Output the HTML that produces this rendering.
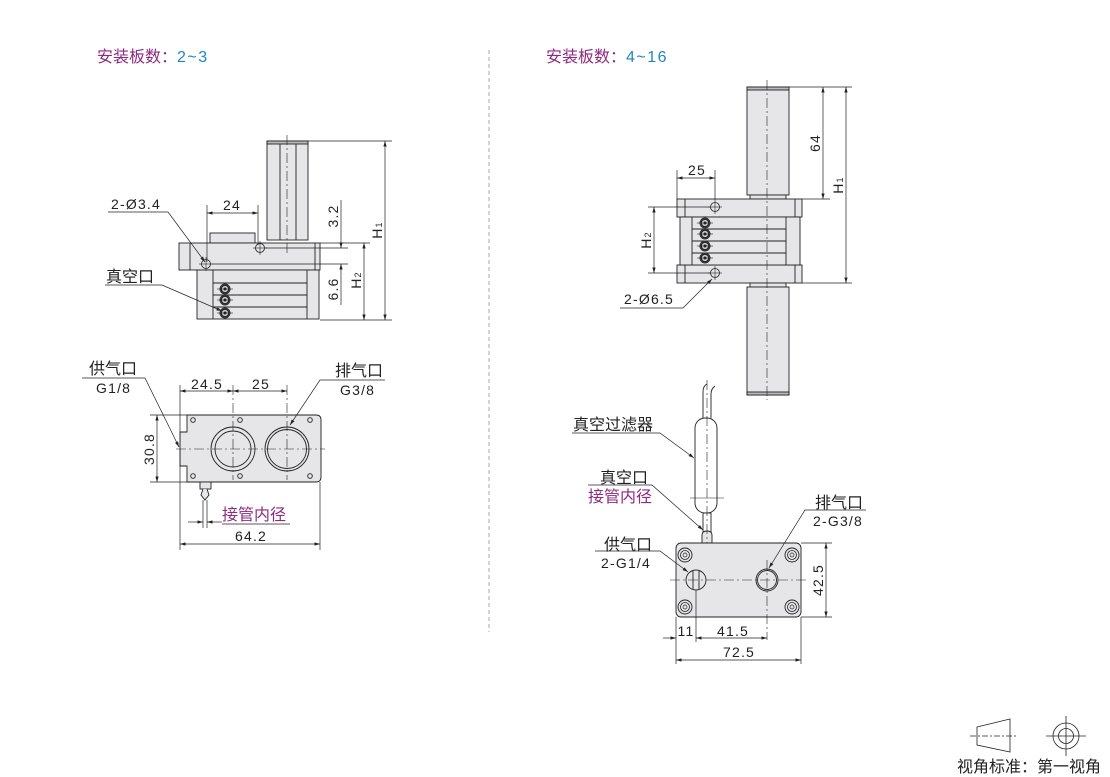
<!DOCTYPE html>
<html><head><meta charset="utf-8"><style>
html,body{margin:0;padding:0;background:#fff;}
svg{display:block;}
text{font-family:"Liberation Sans","Noto Sans CJK SC",sans-serif;fill:#222;font-size:14px;letter-spacing:1.2px;}
.c{font-size:16px;letter-spacing:0;}
.m{text-anchor:middle;}
.p{fill:#8e2a80;}
.b{fill:#1f86c4;}
</style></head><body>
<svg width="1110" height="777" viewBox="0 0 1110 777" xmlns="http://www.w3.org/2000/svg">
<defs>
<marker id="a" viewBox="0 0 10 6" refX="10" refY="3" markerWidth="8" markerHeight="5" orient="auto-start-reverse"><path d="M0,0L10,3L0,6z" fill="#222"/></marker>
<g id="fit"><circle r="5.5" fill="#333"/><circle r="3.5" fill="#ccc" stroke="#222" stroke-width="0.8"/><circle r="1.5" fill="#222"/><line x1="-8" y1="0" x2="8" y2="0" stroke="#222" stroke-width="0.6"/></g>
<g id="hole"><circle r="4.5" fill="none" stroke="#222" stroke-width="0.8"/><line x1="-7" y1="0" x2="7" y2="0" stroke="#222" stroke-width="0.6"/><line x1="0" y1="-7" x2="0" y2="7" stroke="#222" stroke-width="0.6"/></g>
<g id="scr"><circle r="7" fill="#e6e6e8" stroke="#222" stroke-width="0.9"/><circle r="4.5" fill="none" stroke="#222" stroke-width="0.8"/><circle r="2" fill="none" stroke="#222" stroke-width="0.7"/></g>
</defs>

<text x="97" y="62" class="c"><tspan class="p">安装板数：</tspan><tspan class="b" letter-spacing="1.5">2~3</tspan></text>
<text x="546" y="62" class="c"><tspan class="p">安装板数：</tspan><tspan class="b" letter-spacing="1.5">4~16</tspan></text>
<line x1="489" y1="50" x2="489" y2="632" stroke="#aaa" stroke-width="1" stroke-dasharray="4,3"/>

<g stroke="#222" stroke-width="0.9" fill="#e6e6e8">
<rect x="267" y="141" width="41" height="99"/>
<line x1="280" y1="143" x2="280" y2="240"/><line x1="296" y1="143" x2="296" y2="240"/>
<rect x="267" y="141" width="41" height="3" fill="#bbb"/>
<rect x="210" y="233" width="45" height="10"/>
<rect x="179" y="243" width="141" height="27"/>
<line x1="190" y1="243" x2="190" y2="270"/><line x1="315" y1="243" x2="315" y2="270"/>
<rect x="197" y="270" width="122" height="49"/>
<line x1="213" y1="270" x2="213" y2="319"/><line x1="307" y1="270" x2="307" y2="319"/>
<line x1="213" y1="283" x2="307" y2="283"/><line x1="213" y1="295" x2="307" y2="295"/><line x1="213" y1="307" x2="307" y2="307"/>
</g>
<line x1="287" y1="135" x2="287" y2="255" stroke="#222" stroke-width="0.6" stroke-dasharray="10,3,2,3"/>
<use href="#fit" x="225" y="289"/><use href="#fit" x="225" y="300"/><use href="#fit" x="225" y="313"/>
<use href="#hole" x="260" y="248"/><use href="#hole" x="206" y="264"/>
<g stroke="#222" stroke-width="0.7" fill="none">
<line x1="308" y1="141" x2="392" y2="141"/><line x1="320" y1="320" x2="392" y2="320"/>
<line x1="385" y1="141" x2="385" y2="320" marker-start="url(#a)" marker-end="url(#a)"/>
<line x1="320" y1="243" x2="370" y2="243"/>
<line x1="364" y1="243" x2="364" y2="320" marker-start="url(#a)" marker-end="url(#a)"/>
<line x1="265" y1="248" x2="348" y2="248"/><line x1="212" y1="264" x2="348" y2="264"/>
<line x1="341" y1="200" x2="341" y2="248" marker-end="url(#a)"/>
<line x1="341" y1="264" x2="341" y2="305" marker-start="url(#a)"/>
<line x1="207" y1="205" x2="207" y2="262"/><line x1="258" y1="205" x2="258" y2="245"/>
<line x1="207" y1="213" x2="258" y2="213" marker-start="url(#a)" marker-end="url(#a)"/>
<polyline points="108,212 168,212 205,262" marker-end="url(#a)"/>
<polyline points="105,285 162,285 222,311" marker-end="url(#a)"/>
</g>
<text x="111" y="209">2-Ø3.4</text>
<text x="232" y="210" class="m">24</text>
<text x="106" y="282" class="c">真空口</text>
<text class="m" transform="translate(338,216) rotate(-90)">3.2</text>
<text class="m" transform="translate(338,289) rotate(-90)">6.6</text>
<text class="m" transform="translate(361,280) rotate(-90)">H<tspan font-size="9">2</tspan></text>
<text class="m" transform="translate(382,230) rotate(-90)">H<tspan font-size="9">1</tspan></text>

<path d="M187,415 H316 Q321,415 321,420 V477 Q321,482 316,482 H187 V466 H180 V432 H187 Z" fill="#e6e6e8" stroke="#222" stroke-width="0.9"/>
<g stroke="#222" stroke-width="0.9" fill="none">
<circle cx="233" cy="449" r="22"/><circle cx="233" cy="449" r="18"/>
<circle cx="287" cy="449" r="22"/><circle cx="287" cy="449" r="19.5"/>
<circle cx="193" cy="420" r="2.3"/><circle cx="240" cy="420" r="2.3"/><circle cx="310" cy="420" r="2.3"/>
<circle cx="193" cy="476" r="2.3"/><circle cx="240" cy="476" r="2.3"/><circle cx="310" cy="476" r="2.3"/>
<rect x="200" y="482" width="11" height="7" fill="#e6e6e8"/>
<path d="M203,489 L201,495 L205,500 L209,495 L207,489" fill="#e6e6e8"/>
</g>
<g stroke="#222" stroke-width="0.7" fill="none">
<line x1="176" y1="449" x2="325" y2="449" stroke-dasharray="10,3,2,3" stroke-width="0.6"/>
<line x1="233" y1="385" x2="233" y2="480" stroke-dasharray="10,3,2,3" stroke-width="0.6"/>
<line x1="287" y1="385" x2="287" y2="480" stroke-dasharray="10,3,2,3" stroke-width="0.6"/>
<line x1="180" y1="385" x2="180" y2="550"/><line x1="320" y1="482" x2="320" y2="550"/>
<line x1="180" y1="391" x2="233" y2="391" marker-start="url(#a)" marker-end="url(#a)"/>
<line x1="233" y1="391" x2="287" y2="391" marker-start="url(#a)" marker-end="url(#a)"/>
<line x1="150" y1="415" x2="187" y2="415"/><line x1="150" y1="482" x2="187" y2="482"/>
<line x1="157" y1="415" x2="157" y2="482" marker-start="url(#a)" marker-end="url(#a)"/>
<line x1="180" y1="544" x2="320" y2="544" marker-start="url(#a)" marker-end="url(#a)"/>
<line x1="203" y1="500" x2="203" y2="528"/><line x1="207" y1="500" x2="207" y2="528"/>
<line x1="188" y1="522" x2="203" y2="522" marker-end="url(#a)"/>
<line x1="222" y1="522" x2="207" y2="522" marker-end="url(#a)"/>
<line x1="222" y1="524" x2="290" y2="524"/>
<polyline points="82,378 145,378 179,447" marker-end="url(#a)"/>
<polyline points="385,380 320,380 290,425" marker-end="url(#a)"/>
</g>
<text x="89" y="374" class="c">供气口</text>
<text x="96" y="393">G1/8</text>
<text x="335" y="376" class="c">排气口</text>
<text x="340" y="395">G3/8</text>
<text x="207" y="389" class="m">24.5</text>
<text x="261" y="389" class="m">25</text>
<text class="m" transform="translate(154,449) rotate(-90)">30.8</text>
<text x="251" y="541" class="m">64.2</text>
<text x="222" y="520" class="c p">接管内径</text>

<g stroke="#222" stroke-width="0.9" fill="#e6e6e8">
<rect x="747" y="87" width="42" height="108"/><rect x="747" y="87" width="42" height="3" fill="#bbb"/>
<rect x="750" y="195" width="36" height="4"/>
<rect x="677" y="199" width="125" height="18"/>
<rect x="677" y="265" width="125" height="18"/>
<line x1="685" y1="199" x2="685" y2="217"/><line x1="795" y1="199" x2="795" y2="217"/>
<line x1="685" y1="265" x2="685" y2="283"/><line x1="795" y1="265" x2="795" y2="283"/>
<rect x="680" y="217" width="120" height="48"/>
<line x1="692" y1="217" x2="692" y2="265"/><line x1="786" y1="217" x2="786" y2="265"/>
<line x1="692" y1="229" x2="786" y2="229"/><line x1="692" y1="241" x2="786" y2="241"/><line x1="692" y1="253" x2="786" y2="253"/>
<rect x="750" y="283" width="36" height="4"/>
<rect x="747" y="287" width="42" height="108"/><rect x="747" y="392" width="42" height="3" fill="#bbb"/>
</g>
<line x1="767" y1="80" x2="767" y2="400" stroke="#222" stroke-width="0.6" stroke-dasharray="10,3,2,3"/>
<use href="#fit" x="705" y="223"/><use href="#fit" x="705" y="234"/><use href="#fit" x="705" y="246"/><use href="#fit" x="705" y="258"/>
<use href="#hole" x="715" y="207"/><use href="#hole" x="715" y="273"/>
<g stroke="#222" stroke-width="0.7" fill="none">
<line x1="789" y1="87" x2="852" y2="87"/><line x1="802" y1="199" x2="830" y2="199"/><line x1="802" y1="283" x2="852" y2="283"/>
<line x1="823" y1="87" x2="823" y2="199" marker-start="url(#a)" marker-end="url(#a)"/>
<line x1="846" y1="87" x2="846" y2="283" marker-start="url(#a)" marker-end="url(#a)"/>
<line x1="677" y1="170" x2="677" y2="199"/><line x1="715" y1="170" x2="715" y2="200"/>
<line x1="677" y1="178" x2="715" y2="178" marker-start="url(#a)" marker-end="url(#a)"/>
<line x1="648" y1="207" x2="710" y2="207"/><line x1="648" y1="273" x2="710" y2="273"/>
<line x1="654" y1="207" x2="654" y2="273" marker-start="url(#a)" marker-end="url(#a)"/>
<polyline points="620,308 683,308 712,279" marker-end="url(#a)"/>
</g>
<text x="697" y="175" class="m">25</text>
<text class="m" transform="translate(820,143) rotate(-90)">64</text>
<text class="m" transform="translate(843,185) rotate(-90)">H<tspan font-size="9">1</tspan></text>
<text class="m" transform="translate(651,240) rotate(-90)">H<tspan font-size="9">2</tspan></text>
<text x="624" y="304">2-Ø6.5</text>

<g stroke="#222" stroke-width="0.9" fill="#fff">
<path d="M703,418 V392 Q703,386 707,384 M711,418 V394 Q711,389 715,386" fill="none"/>
<rect x="695" y="418" width="22" height="95" rx="10"/>
<rect x="703" y="513" width="8" height="20"/>
<path d="M702,543 V535 Q702,531 707,531 Q712,531 712,535 V543" fill="#e6e6e8"/>
</g>
<line x1="707" y1="380" x2="707" y2="545" stroke="#222" stroke-width="0.6" stroke-dasharray="10,3,2,3"/>
<line x1="690" y1="498" x2="724" y2="498" stroke="#222" stroke-width="0.6"/>
<rect x="676" y="543" width="125" height="74" rx="5" fill="#e6e6e8" stroke="#222" stroke-width="0.9"/>
<use href="#scr" x="685" y="555"/><use href="#scr" x="792" y="555"/><use href="#scr" x="685" y="607"/><use href="#scr" x="792" y="607"/>
<g stroke="#222" stroke-width="0.9" fill="none">
<circle cx="696" cy="580" r="10"/><line x1="693" y1="571" x2="693" y2="589"/><line x1="699" y1="571" x2="699" y2="589"/>
<circle cx="767" cy="580" r="11"/><circle cx="767" cy="580" r="9.5"/>
</g>
<g stroke="#222" stroke-width="0.7" fill="none">
<line x1="670" y1="580" x2="808" y2="580" stroke-dasharray="10,3,2,3" stroke-width="0.6"/>
<line x1="767" y1="560" x2="767" y2="640" stroke-dasharray="10,3,2,3" stroke-width="0.6"/>
<line x1="801" y1="543" x2="832" y2="543"/><line x1="801" y1="617" x2="832" y2="617"/>
<line x1="826" y1="543" x2="826" y2="617" marker-start="url(#a)" marker-end="url(#a)"/>
<line x1="676" y1="617" x2="676" y2="664"/><line x1="696" y1="590" x2="696" y2="642"/><line x1="801" y1="617" x2="801" y2="664"/>
<line x1="663" y1="638" x2="676" y2="638" marker-end="url(#a)"/>
<line x1="696" y1="638" x2="767" y2="638" marker-start="url(#a)" marker-end="url(#a)"/>
<line x1="676" y1="660" x2="801" y2="660" marker-start="url(#a)" marker-end="url(#a)"/>
<polyline points="572,433 660,433 694,458" marker-end="url(#a)"/>
<polyline points="588,485 652,485 703,530" marker-end="url(#a)"/>
<polyline points="866,510 805,510 769,568" marker-end="url(#a)"/>
<polyline points="595,551 660,551 688,572" marker-end="url(#a)"/>
</g>
<text x="573" y="430" class="c">真空过滤器</text>
<text x="600" y="483" class="c">真空口</text>
<text x="588" y="502" class="c p">接管内径</text>
<text x="815" y="508" class="c">排气口</text>
<text x="813" y="526">2-G3/8</text>
<text x="604" y="550" class="c">供气口</text>
<text x="601" y="568">2-G1/4</text>
<text class="m" transform="translate(823,580) rotate(-90)">42.5</text>
<text x="686" y="636" class="m">11</text>
<text x="733" y="636" class="m">41.5</text>
<text x="739" y="657" class="m">72.5</text>

<g stroke="#222" stroke-width="0.8" fill="none">
<path d="M977,727 L1010,719 V752 L977,745 Z"/>
<line x1="970" y1="736" x2="1016" y2="736" stroke-dasharray="6,2,2,2"/>
<circle cx="1066" cy="736" r="13"/><circle cx="1066" cy="736" r="7.5"/>
<line x1="1046" y1="736" x2="1086" y2="736"/><line x1="1066" y1="716" x2="1066" y2="756"/>
</g>
<text x="957" y="772" class="c">视角标准：第一视角</text>
</svg>
</body></html>
